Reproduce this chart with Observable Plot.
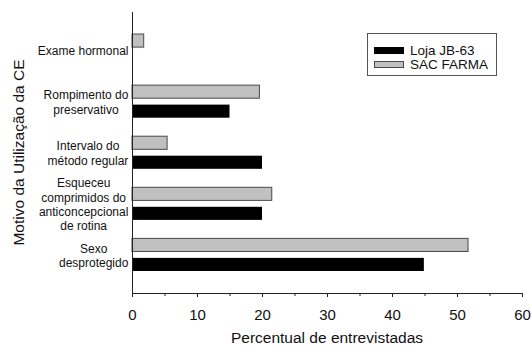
<!DOCTYPE html>
<html>
<head>
<meta charset="utf-8">
<script src="https://cdn.jsdelivr.net/npm/d3@7"></script>
<script src="https://cdn.jsdelivr.net/npm/@observablehq/plot@0.6"></script>
<style>
  html, body { margin: 0; padding: 0; background: #fff; }
  #wrap { position: relative; width: 531px; height: 346px; font-family: "Liberation Sans", Arial, sans-serif; }
  #wrap svg { position: absolute; left: 0; top: 0; }
  .legend { position: absolute; left: 367px; top: 33px; width: 130px; height: 43px; border: 1px solid #555; background: #fff; padding: 9px 0 0 6px; box-sizing: border-box; }
  .legend .row { display: flex; align-items: center; height: 14px; font-size: 13.5px; color: #111; }
  .legend .sw { width: 30px; height: 7px; margin-right: 6px; box-sizing: border-box; }
</style>
</head>
<body>
<div id="wrap"></div>
<script>
const categories = [
  "Exame hormonal",
  "Rompimento do\npreservativo",
  "Intervalo do\nmétodo regular",
  "Esqueceu\ncomprimidos do\nanticoncepcional\nde rotina",
  "Sexo\ndesprotegido"
];
const seriesNames = ["Loja JB-63", "SAC FARMA"];
const lojaValues = [0, 15.0, 20.0, 20.0, 44.9];
const sacValues = [1.8, 19.6, 5.4, 21.5, 51.7];
const xTicks = [0, 10, 20, 30, 40, 50, 60];
const xMinorTicks = [5, 15, 25, 35, 45, 55];
const xTitle = "Percentual de entrevistadas";
const yTitle = "Motivo da Utilização da CE";
const seriesColors = ["#000000", "#c0c0c0"];

const W = 531, H = 346;
const mL = 132, mR = 9, mT = 12, mB = 53;

const rows = [];
categories.forEach((c, i) => {
  rows.push({cat: c, series: seriesNames[1], value: sacValues[i]});
  rows.push({cat: c, series: seriesNames[0], value: lojaValues[i]});
});

const chart = Plot.plot({
  width: W, height: H,
  marginLeft: mL, marginRight: mR, marginTop: mT, marginBottom: mB,
  style: {fontFamily: "Liberation Sans, Arial, sans-serif", color: "#111", background: "#fff"},
  x: {domain: [0, 60], axis: null},
  y: {domain: categories, paddingInner: 0, paddingOuter: 0.25, round: false, axis: null},
  marks: [
    Plot.barX(rows.filter(d => d.series === seriesNames[1]), {
      x: "value", y: "cat", fill: seriesColors[1], stroke: "#4a4a4a", strokeWidth: 1,
      insetTop: 9.25, insetBottom: 28.75
    }),
    Plot.barX(rows.filter(d => d.series === seriesNames[0] && d.value > 0), {
      x: "value", y: "cat", fill: seriesColors[0],
      insetTop: 28.75, insetBottom: 9.25
    }),
    Plot.ruleX([0], {stroke: "#222", strokeWidth: 1}),
    Plot.frame({anchor: "bottom", stroke: "#222", strokeWidth: 1}),
    Plot.axisX({ticks: xTicks, tickSize: 4, tickPadding: 12, fontSize: 15, label: null, stroke: "#222", tickFormat: d => String(d)}),
    Plot.axisX({ticks: xMinorTicks, tickSize: 3, text: null, label: null, stroke: "#222"}),
    Plot.axisY({tickSize: 0, tickPadding: 4, fontSize: 12, lineHeight: 1.2, label: null})
  ]
});

const wrap = document.getElementById("wrap");
wrap.appendChild(chart);

// center each multi-line category label within its own block, right-aligned as a block
d3.select(chart).selectAll('g[aria-label="y-axis tick label"] text').each(function() {
  const w = this.getBBox().width;
  const t = this.getAttribute("transform") || "";
  this.setAttribute("text-anchor", "middle");
  this.setAttribute("transform", t + ` translate(${-w / 2},0)`);
});

// axis titles
const svg = d3.select(chart);
svg.append("text")
  .attr("x", (mL + W - mR) / 2)
  .attr("y", H - 3)
  .attr("text-anchor", "middle")
  .attr("font-size", 15.5)
  .attr("fill", "#111")
  .text(xTitle);
svg.append("text")
  .attr("transform", `translate(24,${(mT + H - mB) / 2}) rotate(-90)`)
  .attr("text-anchor", "middle")
  .attr("font-size", 15.5)
  .attr("fill", "#111")
  .text(yTitle);

// legend
const legend = document.createElement("div");
legend.className = "legend";
seriesNames.forEach((name, i) => {
  const row = document.createElement("div");
  row.className = "row";
  const sw = document.createElement("div");
  sw.className = "sw";
  sw.style.background = seriesColors[i];
  if (i === 1) sw.style.border = "1px solid #4a4a4a";
  const lab = document.createElement("span");
  lab.textContent = name;
  row.appendChild(sw);
  row.appendChild(lab);
  legend.appendChild(row);
});
wrap.appendChild(legend);
</script>
</body>
</html>
